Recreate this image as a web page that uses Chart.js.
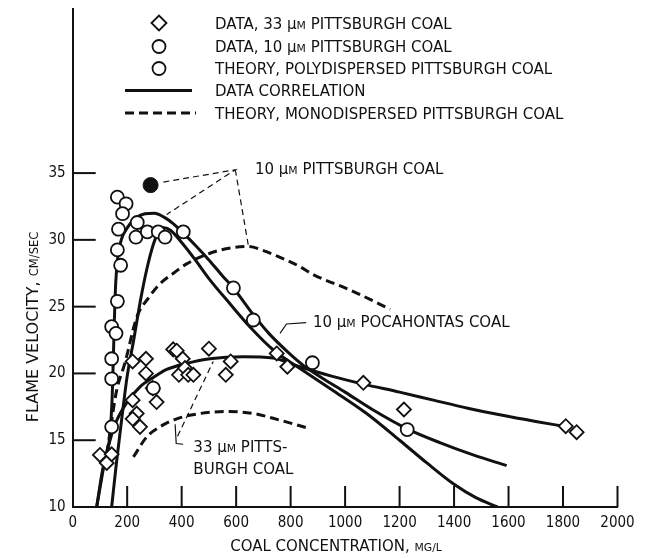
<!DOCTYPE html>
<html>
<head>
<meta charset="utf-8">
<script src="https://cdn.jsdelivr.net/npm/chart.js@4.4.1/dist/chart.umd.min.js"></script>
<style>
  html, body { margin: 0; padding: 0; background: #fff; }
</style>
</head>
<body>
<canvas id="chart" width="649" height="558"></canvas>
<script>
// tick values
const xTickValues = [0, 200, 400, 600, 800, 1000, 1200, 1400, 1600, 1800, 2000];
const yTickValues = [10, 15, 20, 25, 30, 35];

// data, 33 um pittsburgh coal (diamonds)
const data33X = [100, 125, 143, 220, 269, 269, 220, 235, 220, 247, 294, 308, 369, 382, 404, 390, 412, 424, 443, 500, 580, 562, 749, 788, 1067, 1216, 1810, 1850];
const data33Y = [13.9, 13.3, 13.95, 20.9, 21.1, 20.0, 18.0, 17.0, 16.6, 16.0, 18.9, 17.86, 21.8, 21.7, 21.1, 19.9, 20.4, 19.9, 19.9, 21.85, 20.9, 19.9, 21.5, 20.5, 19.3, 17.3, 16.05, 15.6];

// data, 10 um pittsburgh coal (open circles)
const data10X = [164, 196, 183, 237, 168, 232, 274, 314, 339, 406, 164, 176, 590, 164, 143, 159, 663, 143, 143, 143, 296, 880, 1228];
const data10Y = [33.2, 32.7, 31.96, 31.3, 30.8, 30.2, 30.6, 30.6, 30.2, 30.6, 29.25, 28.1, 26.4, 25.4, 23.5, 23.0, 24.0, 21.1, 19.6, 16.0, 18.9, 20.8, 15.8];

// theory, polydispersed (filled circle)
const polyX = [286];
const polyY = [34.1];

// data correlations (solid)
const corr10X = [88, 112, 137, 145, 149, 153, 158, 166, 180, 200, 230, 265, 300, 335, 370, 406, 450, 500, 550, 590, 630, 663, 720, 790, 850, 920, 1000, 1100, 1228, 1350, 1470, 1593];
const corr10Y = [10, 12.8, 15.5, 18.3, 21.0, 24.0, 26.8, 28.8, 30.1, 30.9, 31.6, 31.95, 32.0, 31.7, 31.2, 30.5, 29.6, 28.5, 27.3, 26.4, 25.3, 24.4, 23.0, 21.6, 20.55, 19.6, 18.6, 17.3, 15.85, 14.8, 13.9, 13.1];

const corrPocaX = [143, 160, 180, 200, 223, 250, 272, 295, 315, 335, 360, 400, 450, 500, 578, 650, 740, 840, 950, 1079, 1200, 1300, 1400, 1480, 1560];
const corrPocaY = [10, 13.2, 16.6, 19.8, 22.4, 25.6, 27.8, 29.6, 30.6, 30.9, 30.7, 29.8, 28.5, 27.1, 25.2, 23.5, 21.7, 20.3, 18.8, 17.0, 15.0, 13.3, 11.7, 10.7, 10.0];

const corr33X = [88, 110, 137, 160, 198, 247, 296, 345, 418, 504, 626, 736, 834, 950, 1067, 1200, 1324, 1450, 1568, 1700, 1801];
const corr33Y = [10, 12.8, 15.0, 16.4, 17.8, 19.0, 19.7, 20.3, 20.75, 21.1, 21.25, 21.15, 20.5, 19.8, 19.2, 18.6, 18.0, 17.4, 16.9, 16.4, 16.05];

// theory, monodispersed (dashed)
const mono10X = [125, 137, 160, 192, 235, 280, 320, 370, 418, 504, 580, 645, 700, 749, 834, 883, 1000, 1055, 1165];
const mono10Y = [14.0, 15.6, 18.6, 20.8, 24.2, 25.7, 26.7, 27.5, 28.2, 29.0, 29.4, 29.5, 29.2, 28.8, 28.0, 27.4, 26.4, 25.9, 24.8];

const mono33X = [223, 272, 320, 382, 467, 565, 663, 761, 865];
const mono33Y = [13.75, 15.25, 16.0, 16.6, 17.0, 17.15, 17.0, 16.5, 15.9];

// leader lines
const lead10X = [333, 597, 345, null, 597, 645];
const lead10Y = [34.33, 35.25, 31.9, null, 35.25, 29.55];
const leadPocaX = [761, 785, 857];
const leadPocaY = [23.0, 23.7, 23.8];
const lead33X = [376, 380, 405];
const lead33Y = [16.2, 14.75, 14.7];
const lead33bX = [385, 516];
const lead33bY = [15.3, 20.9];

const legendLabels = [
  'DATA, 33 µm PITTSBURGH COAL',
  'DATA, 10 µm PITTSBURGH COAL',
  'THEORY, POLYDISPERSED PITTSBURGH COAL',
  'DATA CORRELATION',
  'THEORY, MONODISPERSED PITTSBURGH COAL'
];

const FONT = '"DejaVu Sans", sans-serif';
const TICKFONT = '"DejaVu Sans Condensed", "DejaVu Sans", sans-serif';
const INK = '#111';

const pts = (xs, ys) => xs.map((x, i) => ({ x: x, y: ys[i] }));

function solid(xs, ys) {
  return { data: pts(xs, ys), showLine: true, borderColor: INK, borderWidth: 3, pointRadius: 0,
           cubicInterpolationMode: 'monotone', order: 2 };
}
function dashed(xs, ys) {
  return { data: pts(xs, ys), showLine: true, borderColor: INK, borderWidth: 3, borderDash: [9, 5],
           pointRadius: 0, cubicInterpolationMode: 'monotone', order: 2 };
}
function leader(xs, ys, dash) {
  return { data: pts(xs, ys), showLine: true, borderColor: INK, borderWidth: 1.2, borderDash: dash,
           pointRadius: 0, tension: 0, spanGaps: false, order: 3 };
}

// draws text where "µm", "mg/l" and "cm/sec" use small capitals
function richText(ctx, text, x, y, size, align) {
  const parts = [];
  text.split(/(µm|MG\/L|CM\/SEC)/).forEach(p => {
    if (!p) return;
    if (p === 'µm') { parts.push(['µ', size]); parts.push(['M', size * 0.72]); }
    else if (p === 'MG/L' || p === 'CM/SEC') parts.push([p, size * 0.72]);
    else parts.push([p, size]);
  });
  let total = 0;
  parts.forEach(p => { ctx.font = p[1] + 'px ' + FONT; total += ctx.measureText(p[0]).width; });
  let cx = align === 'center' ? x - total / 2 : x;
  ctx.textAlign = 'left';
  ctx.textBaseline = 'alphabetic';
  parts.forEach(p => {
    ctx.font = p[1] + 'px ' + FONT;
    ctx.fillText(p[0], cx, y);
    cx += ctx.measureText(p[0]).width;
  });
}

const decorations = {
  id: 'decorations',
  afterDatasetsDraw(chart) {
    const { ctx, scales: { x, y } } = chart;
    ctx.save();
    ctx.strokeStyle = INK;
    ctx.fillStyle = INK;
    // inward tick marks
    ctx.lineWidth = 2;
    xTickValues.slice(1).forEach(v => {
      const px = x.getPixelForValue(v);
      ctx.beginPath();
      ctx.moveTo(px, y.bottom);
      ctx.lineTo(px, y.bottom - 21);
      ctx.stroke();
    });
    yTickValues.slice(1).forEach(v => {
      const py = y.getPixelForValue(v);
      ctx.beginPath();
      ctx.moveTo(x.left, py);
      ctx.lineTo(x.left + 23, py);
      ctx.stroke();
    });

    // annotations
    const T = (s, vx, vy) => richText(ctx, s, x.getPixelForValue(vx), y.getPixelForValue(vy), 15, 'left');
    T('10 µm PITTSBURGH COAL', 669, 34.9);
    T('10 µm POCAHONTAS COAL', 882, 23.45);
    T('33 µm PITTS-', 443, 14.15);
    T('BURGH COAL', 443, 12.45);

    // legend
    const lx = 159, tx = 215;
    const rows = [23, 46.5, 68.5, 90.5, 113];
    ctx.lineWidth = 1.8;
    ctx.fillStyle = '#fff';
    Chart.helpers.drawPoint(ctx, { pointStyle: 'rectRot', radius: 7.5, borderWidth: 1.8 }, lx, rows[0]);
    [rows[1], rows[2]].forEach(r => {
      ctx.beginPath();
      ctx.arc(lx, r, 6.5, 0, Math.PI * 2);
      ctx.fill();
      ctx.stroke();
    });
    ctx.fillStyle = INK;
    ctx.lineWidth = 3;
    ctx.beginPath();
    ctx.moveTo(125, rows[3]);
    ctx.lineTo(192, rows[3]);
    ctx.stroke();
    ctx.setLineDash([9, 5]);
    ctx.beginPath();
    ctx.moveTo(125, rows[4]);
    ctx.lineTo(196, rows[4]);
    ctx.stroke();
    ctx.setLineDash([]);
    legendLabels.forEach((s, i) => richText(ctx, s, tx, rows[i] + 5.5, 15, 'left'));

    // axis titles
    richText(ctx, 'COAL CONCENTRATION, MG/L', 336, 551, 15, 'center');
    ctx.translate(38, 327);
    ctx.rotate(-Math.PI / 2);
    richText(ctx, 'FLAME VELOCITY, CM/SEC', 0, 0, 16, 'center');
    ctx.restore();
  }
};

new Chart(document.getElementById('chart'), {
  type: 'scatter',
  plugins: [decorations],
  data: {
    datasets: [
      { data: pts(data33X, data33Y), pointStyle: 'rectRot', pointRadius: 7, borderColor: INK,
        backgroundColor: '#fff', borderWidth: 1.8, order: 1 },
      { data: pts(data10X, data10Y), pointStyle: 'circle', pointRadius: 6.5, borderColor: INK,
        backgroundColor: '#fff', borderWidth: 1.8, order: 0 },
      { data: pts(polyX, polyY), pointStyle: 'circle', pointRadius: 7.5, borderColor: INK,
        backgroundColor: INK, borderWidth: 1, order: 0 },
      solid(corr10X, corr10Y),
      solid(corrPocaX, corrPocaY),
      solid(corr33X, corr33Y),
      dashed(mono10X, mono10Y),
      dashed(mono33X, mono33Y),
      leader(lead10X, lead10Y, [6, 4]),
      leader(leadPocaX, leadPocaY, []),
      leader(lead33X, lead33Y, []),
      leader(lead33bX, lead33bY, [6, 4])
    ]
  },
  options: {
    responsive: false,
    animation: false,
    devicePixelRatio: 1,
    layout: { padding: { top: 7, right: 31.5, left: 0, bottom: 0 } },
    plugins: { legend: { display: false }, tooltip: { enabled: false } },
    scales: {
      x: {
        type: 'linear', min: 0, max: 2000,
        afterBuildTicks: s => { s.ticks = xTickValues.map(v => ({ value: v })); },
        afterFit: s => { s.height = 51; s.paddingLeft = 0; s.paddingRight = 0; },
        grid: { display: false, drawTicks: false },
        border: { display: true, color: INK, width: 2 },
        ticks: { color: INK, padding: 7, maxRotation: 0, callback: v => String(v),
                 font: { family: TICKFONT, size: 15 } }
      },
      y: {
        type: 'linear', min: 10, max: 47.3,
        afterBuildTicks: s => { s.ticks = yTickValues.map(v => ({ value: v })); },
        afterFit: s => { s.width = 72.7; s.paddingTop = 0; s.paddingBottom = 0; },
        grid: { display: false, drawTicks: false },
        border: { display: true, color: INK, width: 2 },
        ticks: { color: INK, padding: 7, callback: v => String(v),
                 font: { family: TICKFONT, size: 15 } }
      }
    }
  }
});
</script>
</body>
</html>
